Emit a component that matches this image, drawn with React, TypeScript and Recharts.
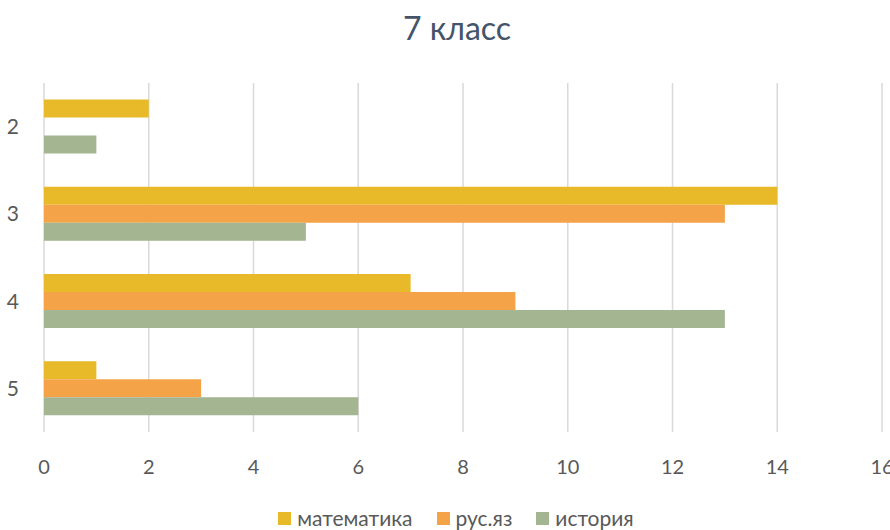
import React from "react";
import { BarChart, Bar, XAxis, YAxis, CartesianGrid, Legend } from "recharts";

const categories = ["2", "3", "4", "5"];
const math = [2, 14, 7, 1];
const russian = [0, 13, 9, 3];
const history = [1, 5, 13, 6];
const xTicks = [0, 2, 4, 6, 8, 10, 12, 14, 16];

const seriesNames = ["математика", "рус.яз", "история"];
const colors = ["#E8BA2A", "#F4A349", "#A4B592"];

const data = categories.map((c, i) => ({
  name: c,
  m: math[i],
  r: russian[i],
  h: history[i],
}));

const FONT = "Lato, 'Open Sans', sans-serif";

const renderLegend = () => {
  return (
    <div
      style={{
        display: "flex",
        justifyContent: "center",
        alignItems: "center",
        fontFamily: FONT,
        fontSize: 21,
        lineHeight: "22px",
        color: "#595959",
        paddingLeft: 30,
      }}
    >
      {seriesNames.map((n, i) => (
        <div
          key={n}
          style={{ display: "flex", alignItems: "center", marginRight: i < seriesNames.length - 1 ? 24 : 0 }}
        >
          <div style={{ width: 13, height: 13, background: colors[i], marginRight: 6 }} />
          <span>{n}</span>
        </div>
      ))}
    </div>
  );
};

export default function App() {
  return (
    <div style={{ position: "absolute", left: 0, top: 0, width: 890, height: 530, background: "#fff" }}>
      <div
        style={{
          position: "absolute",
          left: 0,
          top: 8,
          width: 914,
          textAlign: "center",
          fontFamily: FONT,
          fontSize: 32,
          color: "#44546A",
          lineHeight: "40px",
        }}
      >
        7 класс
      </div>
      <BarChart
        width={890}
        height={530}
        data={data}
        layout="vertical"
        margin={{ top: 83, right: 8, bottom: 1, left: 0 }}
        barCategoryGap="19%"
        barGap={0}
      >
        <CartesianGrid horizontal={false} vertical={true} stroke="#D9D9D9" strokeWidth={1.5} />
        <XAxis
          type="number"
          domain={[0, 16]}
          ticks={xTicks}
          interval={0}
          axisLine={false}
          tickLine={false}
          tickMargin={22}
          height={75}
          tick={{ fill: "#595959", fontSize: 20, fontFamily: FONT }}
        />
        <YAxis
          type="category"
          dataKey="name"
          width={44}
          axisLine={false}
          tickLine={false}
          tickMargin={19}
          tick={{ fill: "#595959", fontSize: 21, fontFamily: FONT }}
        />
        <Legend verticalAlign="bottom" height={22} content={renderLegend} />
        <Bar dataKey="m" name={seriesNames[0]} fill={colors[0]} isAnimationActive={false} />
        <Bar dataKey="r" name={seriesNames[1]} fill={colors[1]} isAnimationActive={false} />
        <Bar dataKey="h" name={seriesNames[2]} fill={colors[2]} isAnimationActive={false} />
      </BarChart>
    </div>
  );
}
